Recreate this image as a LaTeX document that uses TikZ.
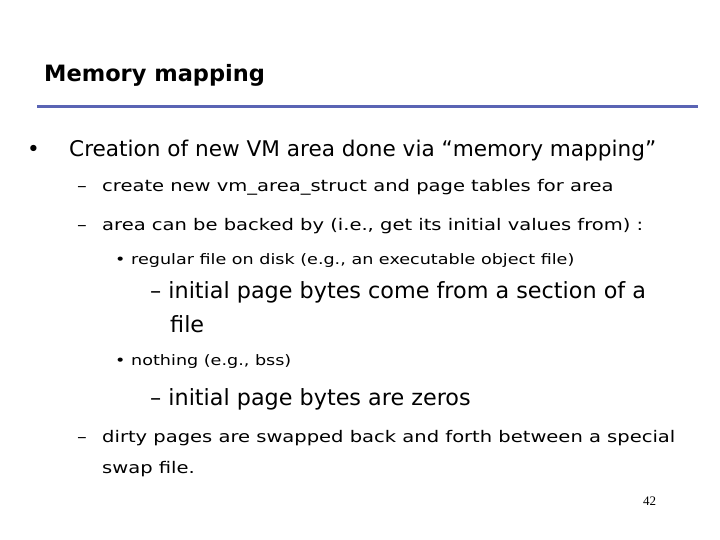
\documentclass[tikz,border=0pt]{standalone}
\usepackage{fontspec}
\setmainfont{DejaVu Sans}
\newfontfamily\widefont[FakeStretch=1.22]{DejaVu Sans}
\newfontfamily\numfont{Liberation Serif}
\begin{document}
\begin{tikzpicture}[x=1pt,y=-1pt,
  t/.style={anchor=base west,inner sep=0pt},
  l1/.style={t,font=\fontsize{21.6}{25}\selectfont},
  l2/.style={t,font=\widefont\fontsize{16}{19}\selectfont},
  l3/.style={t,font=\widefont\fontsize{14.4}{17}\selectfont},
  l4/.style={t,font=\fontsize{22.3}{26}\selectfont}]
\useasboundingbox[fill=white] (0,0) rectangle (720,540);
\node[t,font=\bfseries\fontsize{22.5}{26}\selectfont] (title) at (44,82) {Memory mapping};
\draw[line width=3pt,color={rgb,255:red,90;green,100;blue,180}] (37,107) coordinate (a) -- (698,107) coordinate (b);
\node[l1] (b1) at (27,157) {•};
\node[l1] (t1) at (69,157) {Creation of new VM area done via “memory mapping”};
\node[l2] (d1) at (77,192) {–};
\node[l2] (t2) at (102,192) {create new vm\_area\_struct and page tables for area};
\node[l2] (d2) at (77,230) {–};
\node[l2] (t3) at (102,230) {area can be backed by (i.e., get its initial values from) :};
\node[l3] (b2) at (115,264) {•};
\node[l3] (t4) at (131,264) {regular file on disk (e.g., an executable object file)};
\node[l4] (t5) at (150,298) {– initial page bytes come from a section of a};
\node[l4] (t6) at (170,332) {file};
\node[l3] (b3) at (115,365) {•};
\node[l3] (t7) at (131,365) {nothing (e.g., bss)};
\node[l4] (t8) at (150,405) {– initial page bytes are zeros};
\node[l2] (d3) at (77,442) {–};
\node[l2] (t9) at (102,442) {dirty pages are swapped back and forth between a special};
\node[l2] (t10) at (102,473) {swap file.};
\node[t,font=\numfont\fontsize{13}{15}\selectfont] (n) at (643,505) {42};
\end{tikzpicture}
\end{document}
